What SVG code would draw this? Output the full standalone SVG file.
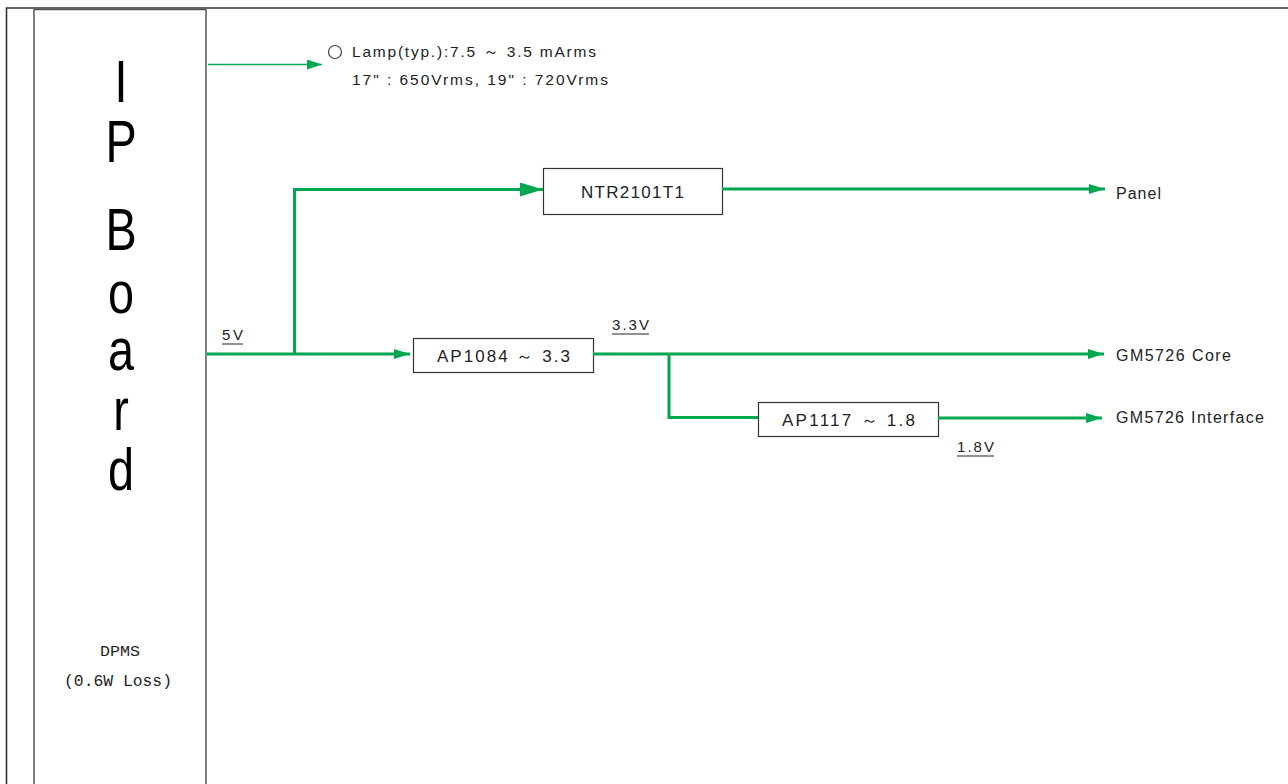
<svg xmlns="http://www.w3.org/2000/svg" width="1288" height="784" viewBox="0 0 1288 784">
<style>
.t{font-family:"Liberation Sans","Noto Sans",sans-serif;fill:#222;}
.m{font-family:"Liberation Mono","DejaVu Sans Mono",monospace;fill:#222;}
.box{fill:#fff;stroke:#333;stroke-width:1.2;}
.w{fill:none;stroke:#00A650;stroke-width:3;}
.big{font-family:"Liberation Sans","Noto Sans",sans-serif;font-size:60px;fill:#000;text-anchor:middle;}
</style>
<defs>
<marker id="ah" markerUnits="userSpaceOnUse" markerWidth="16" markerHeight="10" refX="16" refY="5" orient="auto"><path d="M0,0 L16,5 L0,10 z" fill="#00A650"/></marker>
<marker id="ahL" markerUnits="userSpaceOnUse" markerWidth="23" markerHeight="14" refX="23" refY="7" orient="auto"><path d="M0,0 L23,7 L0,14 z" fill="#00A650"/></marker>
<marker id="ahS" markerUnits="userSpaceOnUse" markerWidth="15" markerHeight="10" refX="15" refY="5" orient="auto"><path d="M0,0 L15,5 L0,10 z" fill="#00A650"/></marker>
</defs>
<rect width="1288" height="784" fill="#fff"/>
<path d="M6.5,790 V8 H1290" fill="none" stroke="#333" stroke-width="1.6"/>
<g id="ipboard">
<rect x="34" y="9.5" width="172" height="790" fill="#fff" stroke="#555" stroke-width="1.5"/>
<g transform="translate(121,0) scale(0.78,1)">
<text class="big"><tspan x="0" y="102">I</tspan><tspan x="0" y="162">P</tspan><tspan x="0" y="250">B</tspan><tspan x="0" y="313">o</tspan><tspan x="0" y="370">a</tspan><tspan x="0" y="430">r</tspan><tspan x="0" y="490">d</tspan></text>
</g>
<text class="m" x="120" y="656" font-size="15" text-anchor="middle" textLength="40" lengthAdjust="spacingAndGlyphs">DPMS</text>
<text class="m" x="118" y="686" font-size="16" text-anchor="middle" textLength="108" lengthAdjust="spacingAndGlyphs">(0.6W Loss)</text>
</g>
<g id="lamp">
<circle cx="335" cy="52" r="6.5" fill="none" stroke="#444" stroke-width="1.2"/>
<text class="t" x="352" y="57" font-size="15.5" textLength="244" lengthAdjust="spacing">Lamp(typ.):7.5 ～ 3.5 mArms</text>
<text class="t" x="352" y="85" font-size="15.5" textLength="256" lengthAdjust="spacing">17" : 650Vrms, 19" : 720Vrms</text>
</g>
<g id="ntr2101t1">
<rect class="box" x="543.5" y="168.5" width="179" height="46"/>
<text class="t" x="581" y="198" font-size="17" textLength="103" lengthAdjust="spacing">NTR2101T1</text>
</g>
<g id="ap1084">
<rect class="box" x="413.5" y="338.5" width="180" height="34"/>
<text class="t" x="437" y="362" font-size="17" textLength="133" lengthAdjust="spacing">AP1084 ～ 3.3</text>
</g>
<g id="ap1117">
<rect class="box" x="758.5" y="402.5" width="180" height="34"/>
<text class="t" x="782" y="426" font-size="17" textLength="133" lengthAdjust="spacing">AP1117 ～ 1.8</text>
</g>
<g id="outputs">
<text class="t" x="1116" y="199" font-size="16" textLength="45" lengthAdjust="spacing">Panel</text>
<text class="t" x="1116" y="361" font-size="16" textLength="115" lengthAdjust="spacing">GM5726 Core</text>
<text class="t" x="1116" y="423" font-size="16" textLength="148" lengthAdjust="spacing">GM5726 Interface</text>
</g>
<g id="connectors">
<path d="M208,64.5 H322" fill="none" stroke="#00A650" stroke-width="1.3" marker-end="url(#ahS)"/>
<path class="w" d="M207,354 H410" marker-end="url(#ah)"/>
<path class="w" d="M294.5,355 V189.5 H543" stroke-width="4" marker-end="url(#ahL)"/>
<path class="w" d="M722,189 H1105" marker-end="url(#ah)"/>
<path class="w" d="M593,354 H1104" marker-end="url(#ah)"/>
<path class="w" d="M669,354 V417.5 H758"/>
<path class="w" d="M938,418 H1102" marker-end="url(#ah)"/>
<text class="t" x="222" y="340" font-size="15" textLength="21" lengthAdjust="spacing">5V</text>
<path d="M222,344 H243" stroke="#222" stroke-width="1"/>
<text class="t" x="612" y="330" font-size="15" textLength="37" lengthAdjust="spacing">3.3V</text>
<path d="M612,334 H649" stroke="#222" stroke-width="1"/>
<text class="t" x="957" y="452" font-size="15" textLength="37" lengthAdjust="spacing">1.8V</text>
<path d="M957,456 H994" stroke="#222" stroke-width="1"/>
</g>
</svg>
